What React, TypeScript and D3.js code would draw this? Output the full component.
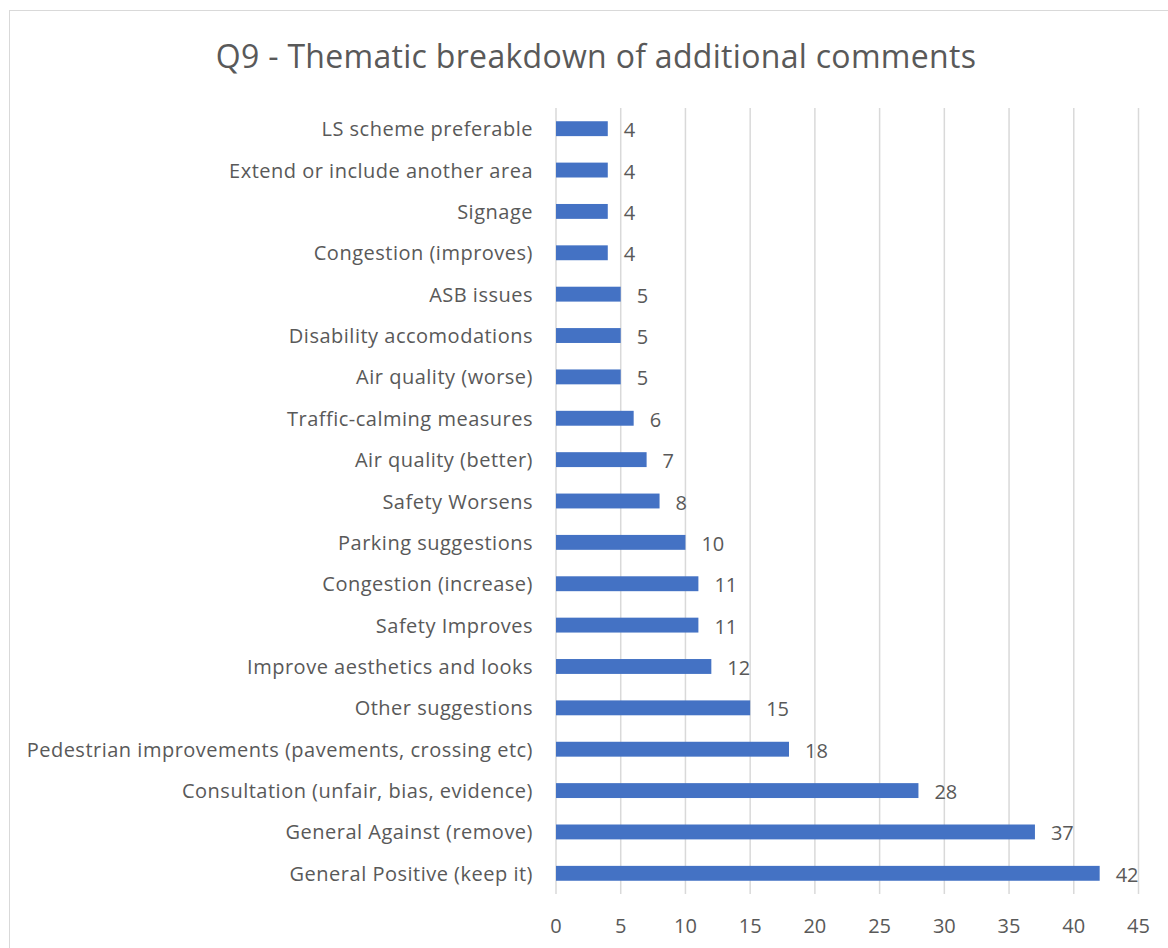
import * as d3 from "d3";
import * as React from "react";

const categories = [
  "LS scheme preferable",
  "Extend or include another area",
  "Signage",
  "Congestion (improves)",
  "ASB issues",
  "Disability accomodations",
  "Air quality (worse)",
  "Traffic-calming measures",
  "Air quality (better)",
  "Safety Worsens",
  "Parking suggestions",
  "Congestion (increase)",
  "Safety Improves",
  "Improve aesthetics and looks",
  "Other suggestions",
  "Pedestrian improvements (pavements, crossing etc)",
  "Consultation (unfair, bias, evidence)",
  "General Against (remove)",
  "General Positive (keep it)",
];
const counts = [4, 4, 4, 4, 5, 5, 5, 6, 7, 8, 10, 11, 11, 12, 15, 18, 28, 37, 42];
const xTicks = [0, 5, 10, 15, 20, 25, 30, 35, 40, 45];

const title = "Q9 - Thematic breakdown of additional comments";

const width = 1168;
const height = 948;
const font = "'Open Sans', sans-serif";
const textColor = "#595959";

export default function App() {
  const ref = React.useRef<SVGSVGElement>(null);

  React.useEffect(() => {
    const svg = d3.select(ref.current);
    svg.selectAll("*").remove();

    const x = d3.scaleLinear().domain([0, 45]).range([556, 1138.5]);
    const y = d3
      .scaleBand()
      .domain(categories)
      .range([108, 894])
      .paddingInner(0.64)
      .paddingOuter(0.32);

    // chart frame
    svg
      .append("rect")
      .attr("x", 9.5)
      .attr("y", 10.5)
      .attr("width", 1200)
      .attr("height", 1000)
      .attr("fill", "#fff")
      .attr("stroke", "#d9d9d9");

    svg
      .append("text")
      .attr("x", 596)
      .attr("y", 55)
      .attr("text-anchor", "middle")
      .attr("dominant-baseline", "central")
      .attr("font-family", font)
      .attr("font-size", 32)
      .attr("letter-spacing", 0.3)
      .attr("fill", textColor)
      .text(title);

    // gridlines
    svg
      .append("g")
      .selectAll("line")
      .data(xTicks)
      .enter()
      .append("line")
      .attr("x1", (d) => x(d))
      .attr("x2", (d) => x(d))
      .attr("y1", 108)
      .attr("y2", 894)
      .attr("stroke", "#d9d9d9")
      .attr("stroke-width", 1.5);

    svg
      .append("g")
      .selectAll("text")
      .data(xTicks)
      .enter()
      .append("text")
      .attr("x", (d) => x(d))
      .attr("y", 925)
      .attr("text-anchor", "middle")
      .attr("dominant-baseline", "central")
      .attr("font-family", font)
      .attr("font-size", 20)
      .attr("fill", textColor)
      .text((d) => d);

    const rows = svg
      .append("g")
      .selectAll("g")
      .data(categories)
      .enter()
      .append("g");

    rows
      .append("rect")
      .attr("x", x(0))
      .attr("y", (d) => y(d)!)
      .attr("width", (d, i) => x(counts[i]) - x(0))
      .attr("height", y.bandwidth())
      .attr("fill", "#4472c4");

    rows
      .append("text")
      .attr("x", 533)
      .attr("y", (d) => y(d)! + y.bandwidth() / 2)
      .attr("text-anchor", "end")
      .attr("dominant-baseline", "central")
      .attr("font-family", font)
      .attr("font-size", 20)
      .attr("letter-spacing", 0.5)
      .attr("fill", textColor)
      .text((d) => d);

    rows
      .append("text")
      .attr("x", (d, i) => x(counts[i]) + 16)
      .attr("y", (d) => y(d)! + y.bandwidth() / 2 + 1)
      .attr("dominant-baseline", "central")
      .attr("font-family", font)
      .attr("font-size", 20)
      .attr("fill", textColor)
      .text((d, i) => counts[i]);
  }, []);

  return (
    <div style={{ position: "absolute", left: 0, top: 0, width, height, overflow: "hidden" }}>
      <svg ref={ref} width={width} height={height} />
    </div>
  );
}
